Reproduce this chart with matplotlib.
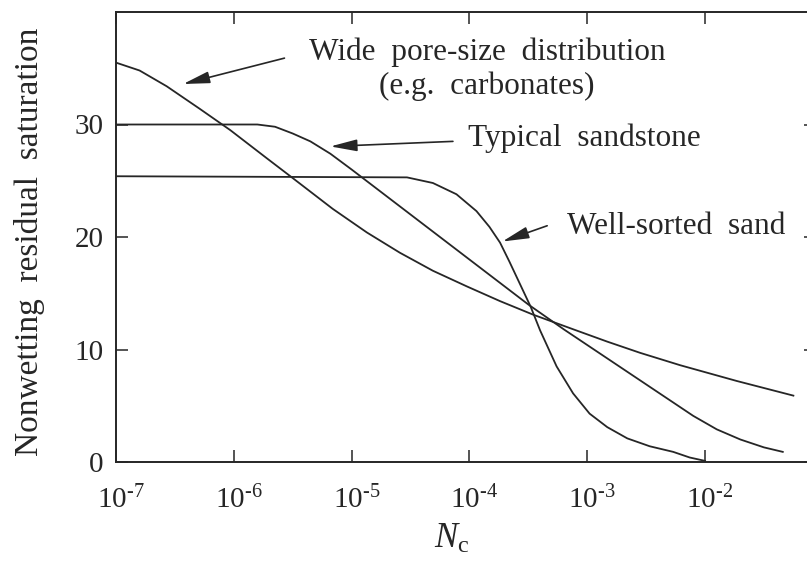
import numpy as np
import matplotlib
matplotlib.use("Agg")
from matplotlib import pyplot as plt
from matplotlib import transforms

plt.rcParams['font.family'] = 'Liberation Serif'
plt.rcParams['mathtext.fontset'] = 'custom'
plt.rcParams['mathtext.rm'] = 'Liberation Serif'
plt.rcParams['mathtext.it'] = 'Liberation Serif:italic'

ink = '#262626'

# log10(Nc) and residual saturation
wide_logn = [-7.0, -6.80, -6.57, -6.29, -6.03, -5.72, -5.52, -5.16, -4.87, -4.59, -4.31,
             -4.02, -3.74, -3.46, -3.12, -2.83, -2.55, -2.21, -1.73, -1.25]
wide_sat = [35.5, 34.8, 33.4, 31.4, 29.5, 27.0, 25.4, 22.5, 20.4, 18.6, 17.0,
            15.6, 14.3, 13.1, 11.8, 10.7, 9.7, 8.6, 7.2, 5.9]

sand_logn = [-7.0, -5.80, -5.65, -5.50, -5.35, -5.18, -5.0, -4.7, -4.4, -4.1, -3.8,
             -3.5, -3.2, -2.9, -2.6, -2.3, -2.1, -1.9, -1.7, -1.5, -1.34]
sand_sat = [30.0, 30.0, 29.8, 29.2, 28.5, 27.4, 26.0, 23.6, 21.2, 18.8, 16.4,
            14.0, 11.8, 9.7, 7.6, 5.5, 4.1, 2.9, 2.0, 1.3, 0.9]

sorted_logn = [-7.0, -4.53, -4.31, -4.11, -3.94, -3.83, -3.74, -3.66, -3.57, -3.48, -3.40,
               -3.26, -3.12, -2.98, -2.83, -2.66, -2.47, -2.27, -2.13, -2.0]
sorted_sat = [25.4, 25.3, 24.8, 23.8, 22.3, 20.9, 19.5, 17.8, 15.8, 13.8, 11.7,
              8.5, 6.1, 4.3, 3.1, 2.1, 1.4, 0.9, 0.4, 0.1]

xtick_pow = [-7, -6, -5, -4, -3, -2]
yticks = [0, 10, 20, 30]

fig = plt.figure(figsize=(8.07, 5.68), dpi=100)
ax = fig.add_axes([116/807, 106/568, 700/807, 450/568])

for logn, sat in [(wide_logn, wide_sat), (sand_logn, sand_sat), (sorted_logn, sorted_sat)]:
    ax.plot(10.0 ** np.array(logn), sat, color=ink, lw=1.3)

ax.set_xscale('log')
ax.set_xlim(1e-7, 10 ** -1.058)
ax.set_ylim(0, 40)
ax.set_xticks([10.0 ** p for p in xtick_pow])
ax.set_xticklabels([r'$10^{\text{-%d}}$' % -p for p in xtick_pow])
ax.minorticks_off()
ax.set_yticks(yticks)

ax.tick_params(axis='both', direction='in', length=8.6, width=1.1, color=ink,
               labelcolor=ink, labelsize=21, top=True, right=True)
ax.tick_params(axis='x', pad=17)
ax.tick_params(axis='y', pad=9)
for sp in ax.spines.values():
    sp.set_linewidth(1.4)
    sp.set_color(ink)

shift = transforms.ScaledTranslation(5/100, 0, fig.dpi_scale_trans)
for lab in ax.get_xticklabels():
    lab.set_transform(lab.get_transform() + shift)

ax.set_xlabel(r'$N_\mathrm{c}$', fontsize=25, color=ink)
ax.xaxis.set_label_coords(0.48, -0.135)
ax.set_ylabel('Nonwetting  residual  saturation', fontsize=24, color=ink)
ax.yaxis.set_label_coords(-0.101, 0.49)

arrow = dict(arrowstyle='-|>,head_length=0.9,head_width=0.2', color=ink, lw=1.2,
             shrinkA=0, shrinkB=0, mutation_scale=18)
txt = dict(fontsize=22.5, color=ink)

ax.text(10 ** -3.85, 35.7, 'Wide  pore-size  distribution', ha='center', va='baseline', **txt)
ax.text(10 ** -3.85, 32.7, '(e.g.  carbonates)', ha='center', va='baseline', **txt)
ax.annotate('', xy=(10 ** -6.43, 33.6), xytext=(10 ** -5.57, 35.9), arrowprops=arrow)

ax.text(10 ** -4.01, 28.05, 'Typical  sandstone', ha='left', va='baseline', **txt)
ax.annotate('', xy=(10 ** -5.18, 28.05), xytext=(10 ** -4.14, 28.5), arrowprops=arrow)

ax.text(10 ** -3.17, 20.3, 'Well-sorted  sand', ha='left', va='baseline', **txt)
ax.annotate('', xy=(10 ** -3.72, 19.6), xytext=(10 ** -3.34, 21.0), arrowprops=arrow)

fig.savefig('out.png', dpi=100)
